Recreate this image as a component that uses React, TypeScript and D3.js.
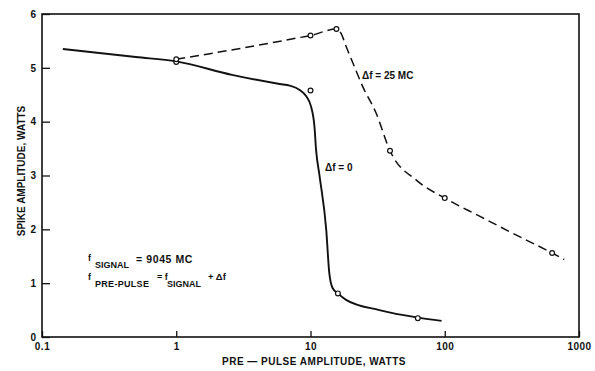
import React, { useEffect, useRef } from "react";
import * as d3 from "d3";

// axis ticks
const xTicks = [0.1, 1, 10, 100, 1000];
const xTickLabels = ["0.1", "1", "10", "100", "1000"];
const yTicks = [0, 1, 2, 3, 4, 5, 6];

// delta f = 0 (solid curve)
const zeroCurveX = [0.143, 0.5, 1, 2.6, 5.9, 7, 8.3, 9.3, 10.1, 10.7, 11, 11.7, 13.1, 13.8, 14.6, 16, 18.4, 32.6, 63.7, 94.7];
const zeroCurveY = [5.35, 5.2, 5.12, 4.87, 4.7, 4.67, 4.59, 4.47, 4.28, 3.91, 3.48, 2.98, 1.99, 1.19, 0.91, 0.81, 0.69, 0.5, 0.36, 0.3];
const zeroPointsX = [1, 10, 16, 63];
const zeroPointsY = [5.11, 4.58, 0.81, 0.35];

// delta f = 25 MC (dashed curve)
const mcCurveX = [1, 3, 7.8, 10, 15.6, 16.9, 18.4, 20.7, 24.5, 30.8, 39.1, 62.4, 100, 180, 319, 631, 776];
const mcCurveY = [5.16, 5.36, 5.55, 5.6, 5.72, 5.64, 5.4, 5.09, 4.65, 4.16, 3.46, 2.9, 2.58, 2.25, 1.93, 1.56, 1.44];
const mcPointsX = [1, 10, 15.6, 39.1, 100, 631];
const mcPointsY = [5.16, 5.6, 5.72, 3.46, 2.58, 1.56];

export default function App() {
  const svgRef = useRef<SVGSVGElement>(null);

  useEffect(() => {
    const w = 595;
    const h = 371;
    const left = 42;
    const right = 579;
    const top = 14;
    const bottom = 337;
    const font = "'Liberation Sans', Arial, sans-serif";

    const svg = d3.select(svgRef.current);
    svg.selectAll("*").remove();
    svg.attr("width", w).attr("height", h).style("background", "#fff");

    const x = d3.scaleLog().domain([0.1, 1000]).range([left, right]);
    const y = d3.scaleLinear().domain([0, 6]).range([bottom, top]);

    // frame
    svg
      .append("rect")
      .attr("x", left)
      .attr("y", top)
      .attr("width", right - left)
      .attr("height", bottom - top)
      .attr("fill", "none")
      .attr("stroke", "#111")
      .attr("stroke-width", 1.6);

    // x axis, inward ticks
    const xAxis = d3
      .axisBottom(x)
      .tickValues(xTicks)
      .tickSize(-6)
      .tickPadding(6)
      .tickFormat((d, i) => xTickLabels[i]);

    const gx = svg.append("g").attr("transform", `translate(0,${bottom})`).call(xAxis);
    gx.select(".domain").remove();
    gx.selectAll("line").attr("stroke", "#111").attr("stroke-width", 1.3);
    gx.selectAll("text")
      .attr("font-family", font)
      .attr("font-size", 10)
      .attr("font-weight", "bold")
      .attr("letter-spacing", 0.5)
      .attr("fill", "#111");

    const yAxis = d3.axisLeft(y).tickValues(yTicks).tickSize(-8).tickPadding(6).tickFormat(d3.format("d"));
    const gy = svg.append("g").attr("transform", `translate(${left},0)`).call(yAxis);
    gy.select(".domain").remove();
    gy.selectAll("line").attr("stroke", "#111").attr("stroke-width", 1.3);
    gy.selectAll("text")
      .attr("font-family", font)
      .attr("font-size", 10)
      .attr("font-weight", "bold")
      .attr("fill", "#111");

    const line = d3
      .line<[number, number]>()
      .x((d) => x(d[0]))
      .y((d) => y(d[1]))
      .curve(d3.curveMonotoneX);

    const zeroData = zeroCurveX.map((v, i) => [v, zeroCurveY[i]] as [number, number]);
    const mcData = mcCurveX.map((v, i) => [v, mcCurveY[i]] as [number, number]);

    svg
      .append("path")
      .attr("d", line(zeroData))
      .attr("fill", "none")
      .attr("stroke", "#111")
      .attr("stroke-width", 1.9);

    svg
      .append("path")
      .attr("d", line(mcData))
      .attr("fill", "none")
      .attr("stroke", "#111")
      .attr("stroke-width", 1.5)
      .attr("stroke-dasharray", "9,5");

    const pts = [
      ...zeroPointsX.map((v, i) => [v, zeroPointsY[i]]),
      ...mcPointsX.map((v, i) => [v, mcPointsY[i]]),
    ];

    svg
      .selectAll(".pt")
      .data(pts)
      .enter()
      .append("circle")
      .attr("cx", (d) => x(d[0]))
      .attr("cy", (d) => y(d[1]))
      .attr("r", 2.4)
      .attr("fill", "#fff")
      .attr("stroke", "#111")
      .attr("stroke-width", 1.2);

    const label = (tx: number, ty: number, s: string, size = 10, spacing = 0) =>
      svg
        .append("text")
        .attr("x", tx)
        .attr("y", ty)
        .attr("font-family", font)
        .attr("font-size", size)
        .attr("font-weight", "bold")
        .attr("letter-spacing", spacing)
        .attr("fill", "#111")
        .text(s);

    // curve labels
    label(362, 79, "Δf = 25 MC");
    label(325, 171, "Δf = 0");

    // notes
    label(88, 261, "f", 9);
    label(95, 268, "SIGNAL", 9);
    label(136, 263, "= 9045 MC", 10.5, 0.6);
    label(88, 280, "f", 9);
    label(95, 287, "PRE-PULSE", 9, 0.3);
    label(157, 280, "= f", 9);
    label(167, 287, "SIGNAL", 9);
    label(208, 280, "+ Δf", 9.5);

    // axis titles
    label(314, 365, "PRE — PULSE AMPLITUDE, WATTS", 10, 0.5).attr("text-anchor", "middle");
    svg
      .append("text")
      .attr("transform", `translate(25,171) rotate(-90)`)
      .attr("text-anchor", "middle")
      .attr("font-family", font)
      .attr("font-size", 10)
      .attr("font-weight", "bold")
      .attr("fill", "#111")
      .text("SPIKE AMPLITUDE, WATTS");
  }, []);

  return (
    <div style={{ position: "absolute", left: 0, top: 0 }}>
      <svg ref={svgRef}></svg>
    </div>
  );
}
